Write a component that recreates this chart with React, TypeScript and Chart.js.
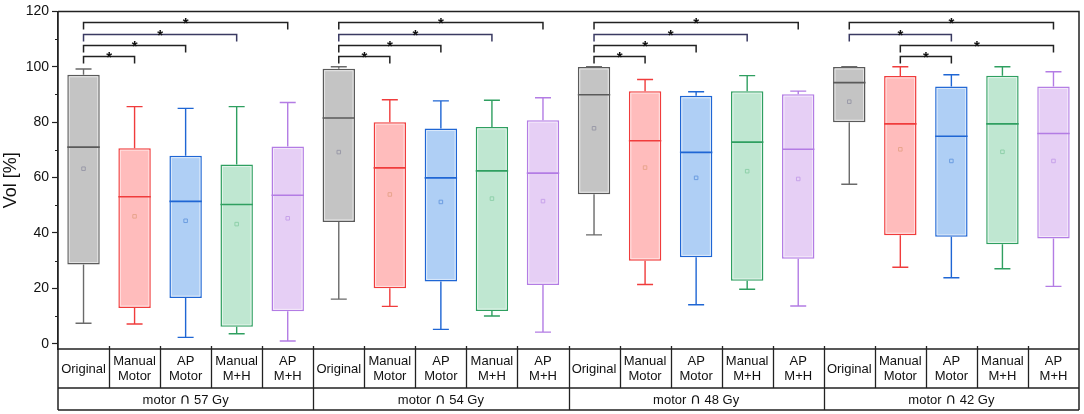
import React, { useEffect, useRef } from 'react';
import { Chart, registerables } from 'chart.js';

Chart.register(...registerables);

const FONT = '"Liberation Sans", Arial, sans-serif';
const SYM_FONT = '"DejaVu Sans", "Noto Sans", sans-serif';

// ---- data ----
const groupLabels = ['motor ∩ 57 Gy', 'motor ∩ 54 Gy', 'motor ∩ 48 Gy', 'motor ∩ 42 Gy'];
const methodLabels = [['Original'], ['Manual', 'Motor'], ['AP', 'Motor'], ['Manual', 'M+H'], ['AP', 'M+H']];
const categories = groupLabels.flatMap((g) => methodLabels.map((m) => `${g} | ${m.join(' ')}`));

const whiskerLow = [
  7.4, 7.1, 2.3, 3.6, 1.0,
  16.1, 13.5, 5.2, 10.0, 4.2,
  39.3, 21.4, 14.1, 19.7, 13.6,
  57.6, 27.6, 23.8, 27.1, 20.7,
];
const q1 = [
  28.6, 12.9, 16.5, 6.1, 11.7,
  44.0, 20.0, 22.5, 11.8, 21.2,
  54.0, 30.0, 31.2, 22.7, 30.7,
  80.0, 39.2, 38.6, 35.9, 38.0,
];
const median = [
  71.0, 53.1, 51.4, 50.3, 53.6,
  81.5, 63.5, 59.9, 62.4, 61.6,
  89.9, 73.3, 69.1, 72.8, 70.2,
  94.3, 79.4, 74.9, 79.4, 75.9,
];
const q3 = [
  97.1, 70.6, 67.9, 64.7, 71.2,
  99.3, 80.0, 77.7, 78.3, 80.7,
  99.9, 91.2, 89.5, 91.2, 90.1,
  99.9, 96.7, 92.9, 96.8, 92.9,
];
const whiskerHigh = [
  99.2, 85.6, 85.0, 85.6, 87.1,
  100.0, 88.1, 87.7, 87.9, 88.8,
  100.0, 95.4, 91.0, 96.8, 91.2,
  100.0, 100.0, 97.1, 100.0, 98.2,
];
const means = [
  63.2, 46.0, 44.4, 43.2, 45.3,
  69.2, 53.9, 51.2, 52.4, 51.5,
  77.8, 63.6, 59.9, 62.3, 59.5,
  87.4, 70.2, 66.0, 69.3, 66.0,
];

// significance brackets: [from category index, to category index, height]
const brackets: [number, number, number][] = [
  [0, 1, 103.9], [0, 2, 107.9], [0, 3, 111.9], [0, 4, 116.0],
  [5, 6, 103.9], [5, 7, 107.9], [5, 8, 111.9], [5, 9, 116.0],
  [10, 11, 103.9], [10, 12, 107.9], [10, 13, 111.9], [10, 14, 116.0],
  [16, 17, 103.9], [16, 19, 107.9], [15, 17, 111.9], [15, 19, 116.0],
];
const bracketColors = ['#222222', '#222222', '#3a3a62', '#222222', '#222222', '#222222', '#3a3a62', '#222222', '#222222', '#222222', '#3a3a62', '#222222', '#222222', '#222222', '#3a3a62', '#222222'];

const yTicks = [0, 20, 40, 60, 80, 100, 120];
const yMinorTicks = [10, 30, 50, 70, 90, 110];

// styles per method
const fillColors = ['#c4c4c4', '#ffbcbc', '#afcff5', '#bfe7d1', '#e6cff5'];
const lineColors = ['#5a5a5a', '#f03c3c', '#1f66d4', '#2f9f60', '#b37ce4'];
const whiskerColors = ['#6a6a6a', '#f03c3c', '#1f66d4', '#2f9f60', '#b37ce4'];
const meanColors = ['#9a9aa8', '#e8a48c', '#6c9de0', '#8fd0aa', '#c7a2ea'];

const perCat = (arr: string[]) => categories.map((_, i) => arr[i % 5]);

const extrasPlugin = {
  id: 'boxExtras',
  afterDatasetsDraw(chart: any) {
    const ctx = chart.ctx;
    const ys = chart.scales.y;
    const meta = chart.getDatasetMeta(0);
    ctx.save();
    meta.data.forEach((bar: any, i: number) => {
      const { x, y, base, width } = bar.getProps(['x', 'y', 'base', 'width'], true);
      const left = x - width / 2;
      const right = x + width / 2;
      const top = Math.min(y, base);
      const bottom = Math.max(y, base);
      // inner light line
      ctx.strokeStyle = 'rgba(255,255,255,0.55)';
      ctx.lineWidth = 1;
      ctx.strokeRect(left + 2, top + 2, width - 4, bottom - top - 4);
      const col = lineColors[i % 5];
      // median
      const my = ys.getPixelForValue(median[i]);
      ctx.strokeStyle = col;
      ctx.lineWidth = 1.6;
      ctx.beginPath();
      ctx.moveTo(left, my);
      ctx.lineTo(right, my);
      ctx.stroke();
      // whiskers
      const wcol = whiskerColors[i % 5];
      ctx.strokeStyle = wcol;
      ctx.lineWidth = 1.4;
      const hy = ys.getPixelForValue(whiskerHigh[i]);
      const ly = ys.getPixelForValue(whiskerLow[i]);
      const cap = 8;
      ctx.beginPath();
      if (hy < top - 0.5) {
        ctx.moveTo(x, top);
        ctx.lineTo(x, hy);
      }
      ctx.moveTo(x - cap, hy);
      ctx.lineTo(x + cap, hy);
      if (ly > bottom + 0.5) {
        ctx.moveTo(x, bottom);
        ctx.lineTo(x, ly);
      }
      ctx.moveTo(x - cap, ly);
      ctx.lineTo(x + cap, ly);
      ctx.stroke();
    });
    ctx.restore();
  },
  afterDraw(chart: any) {
    const ctx = chart.ctx;
    const xs = chart.scales.x;
    const ys = chart.scales.y;
    const area = chart.chartArea;
    const half = (xs.getPixelForValue(1) - xs.getPixelForValue(0)) / 2;
    ctx.save();
    // minor y ticks
    ctx.strokeStyle = '#222';
    ctx.lineWidth = 1.2;
    ctx.beginPath();
    yMinorTicks.forEach((v) => {
      const py = Math.round(ys.getPixelForValue(v)) + 0.5;
      ctx.moveTo(area.left - 3, py);
      ctx.lineTo(area.left, py);
    });
    ctx.stroke();

    // frame (top, right) and table
    const tableTop = area.bottom;
    const rowDiv = tableTop + 39;
    const tableBottom = tableTop + 61;
    ctx.strokeStyle = '#222';
    ctx.lineWidth = 1.5;
    ctx.beginPath();
    ctx.moveTo(area.left, area.top);
    ctx.lineTo(area.right, area.top);
    ctx.lineTo(area.right, tableBottom);
    ctx.moveTo(area.left, tableTop);
    ctx.lineTo(area.right, tableTop);
    ctx.moveTo(area.left, rowDiv);
    ctx.lineTo(area.right, rowDiv);
    ctx.moveTo(area.left, tableBottom);
    ctx.lineTo(area.right, tableBottom);
    ctx.moveTo(area.left, tableTop);
    ctx.lineTo(area.left, tableBottom);
    ctx.stroke();

    // cell dividers + small ticks
    ctx.lineWidth = 1.3;
    ctx.beginPath();
    for (let i = 1; i < categories.length; i++) {
      const bx = Math.round(xs.getPixelForValue(i) - half) + 0.5;
      const isGroup = i % 5 === 0;
      ctx.moveTo(bx, tableTop - 3);
      ctx.lineTo(bx, isGroup ? tableBottom : rowDiv);
    }
    ctx.stroke();

    // text
    ctx.fillStyle = '#111';
    ctx.font = `13px ${FONT}`;
    ctx.textAlign = 'center';
    ctx.textBaseline = 'middle';
    categories.forEach((_, i) => {
      const cx = xs.getPixelForValue(i);
      const lines = methodLabels[i % 5];
      const mid = (tableTop + rowDiv) / 2 + 0.5;
      if (lines.length === 1) {
        ctx.fillText(lines[0], cx, mid);
      } else {
        ctx.fillText(lines[0], cx, mid - 7.5);
        ctx.fillText(lines[1], cx, mid + 7.5);
      }
    });
    // group labels: draw the ∩ sign with a font where it is full size
    ctx.textAlign = 'left';
    ctx.textBaseline = 'alphabetic';
    groupLabels.forEach((g, gi) => {
      const cx = (xs.getPixelForValue(gi * 5) - half + xs.getPixelForValue(gi * 5 + 4) + half) / 2;
      const [pre, post] = g.split('∩');
      const fMain = `13px ${FONT}`;
      const fSym = `15px ${SYM_FONT}`;
      ctx.font = fMain;
      const w1 = ctx.measureText(pre).width;
      const w3 = ctx.measureText(post).width;
      ctx.font = fSym;
      const w2 = ctx.measureText('∩').width;
      const total = w1 + w2 + w3;
      let x0 = cx - total / 2;
      const by = (rowDiv + tableBottom) / 2 + 5;
      ctx.font = fMain;
      ctx.fillText(pre, x0, by);
      x0 += w1;
      ctx.font = fSym;
      ctx.fillText('∩', x0, by);
      x0 += w2;
      ctx.font = fMain;
      ctx.fillText(post, x0, by);
    });
    ctx.textAlign = 'center';

    // significance brackets
    brackets.forEach(([a, b, v], k) => {
      const x1 = xs.getPixelForValue(a);
      const x2 = xs.getPixelForValue(b);
      const py = Math.round(ys.getPixelForValue(v)) + 0.5;
      const leg = 7;
      ctx.strokeStyle = bracketColors[k];
      ctx.lineWidth = 1.5;
      ctx.beginPath();
      ctx.moveTo(x1, py + leg);
      ctx.lineTo(x1, py);
      ctx.lineTo(x2, py);
      ctx.lineTo(x2, py + leg);
      ctx.stroke();
      ctx.fillStyle = '#111';
      ctx.font = `bold 15px ${FONT}`;
      ctx.textBaseline = 'alphabetic';
      ctx.fillText('*', (x1 + x2) / 2, py + 5);
    });
    ctx.restore();
  },
};

export default function App() {
  const ref = useRef<HTMLCanvasElement>(null);
  useEffect(() => {
    document.body.style.margin = '0';
    if (!ref.current) return;
    const chart = new Chart(ref.current, {
      type: 'bar',
      data: {
        labels: categories,
        datasets: [
          {
            type: 'bar',
            data: categories.map((_, i) => [q1[i], q3[i]]) as any,
            backgroundColor: perCat(fillColors),
            borderColor: perCat(lineColors),
            borderWidth: 1.5,
            borderSkipped: false,
            barPercentage: 0.635,
            categoryPercentage: 1,
            order: 1,
          },
          {
            type: 'line',
            data: means,
            showLine: false,
            pointStyle: 'rect',
            pointRadius: 2.5,
            pointBorderWidth: 1,
            pointBorderColor: perCat(meanColors),
            pointBackgroundColor: 'rgba(0,0,0,0)',
            order: 0,
          } as any,
        ],
      },
      options: {
        responsive: false,
        animation: false,
        devicePixelRatio: 1,
        layout: { padding: { top: 8, right: 4, bottom: 65, left: 0 } },
        plugins: { legend: { display: false }, tooltip: { enabled: false } },
        scales: {
          x: { display: false, offset: true },
          y: {
            min: -1.9,
            max: 120,
            afterFit: (s: any) => {
              s.width = 58;
            },
            afterBuildTicks: (s: any) => {
              s.ticks = yTicks.map((v) => ({ value: v }));
            },
            ticks: { font: { family: FONT, size: 14 }, color: '#111', padding: 3 },
            grid: { drawOnChartArea: false, drawTicks: true, tickLength: 6, tickColor: '#222', tickWidth: 1.2 },
            border: { display: true, color: '#222', width: 1.8 },
            title: { display: true, text: 'Vol [%]', font: { family: FONT, size: 18 }, color: '#111', padding: { top: 0, bottom: 0 } },
          },
        },
      },
      plugins: [extrasPlugin],
    });
    return () => chart.destroy();
  }, []);
  return (
    <div style={{ width: 1084, height: 414 }}>
      <canvas ref={ref} width={1084} height={414} style={{ display: 'block' }} />
    </div>
  );
}
